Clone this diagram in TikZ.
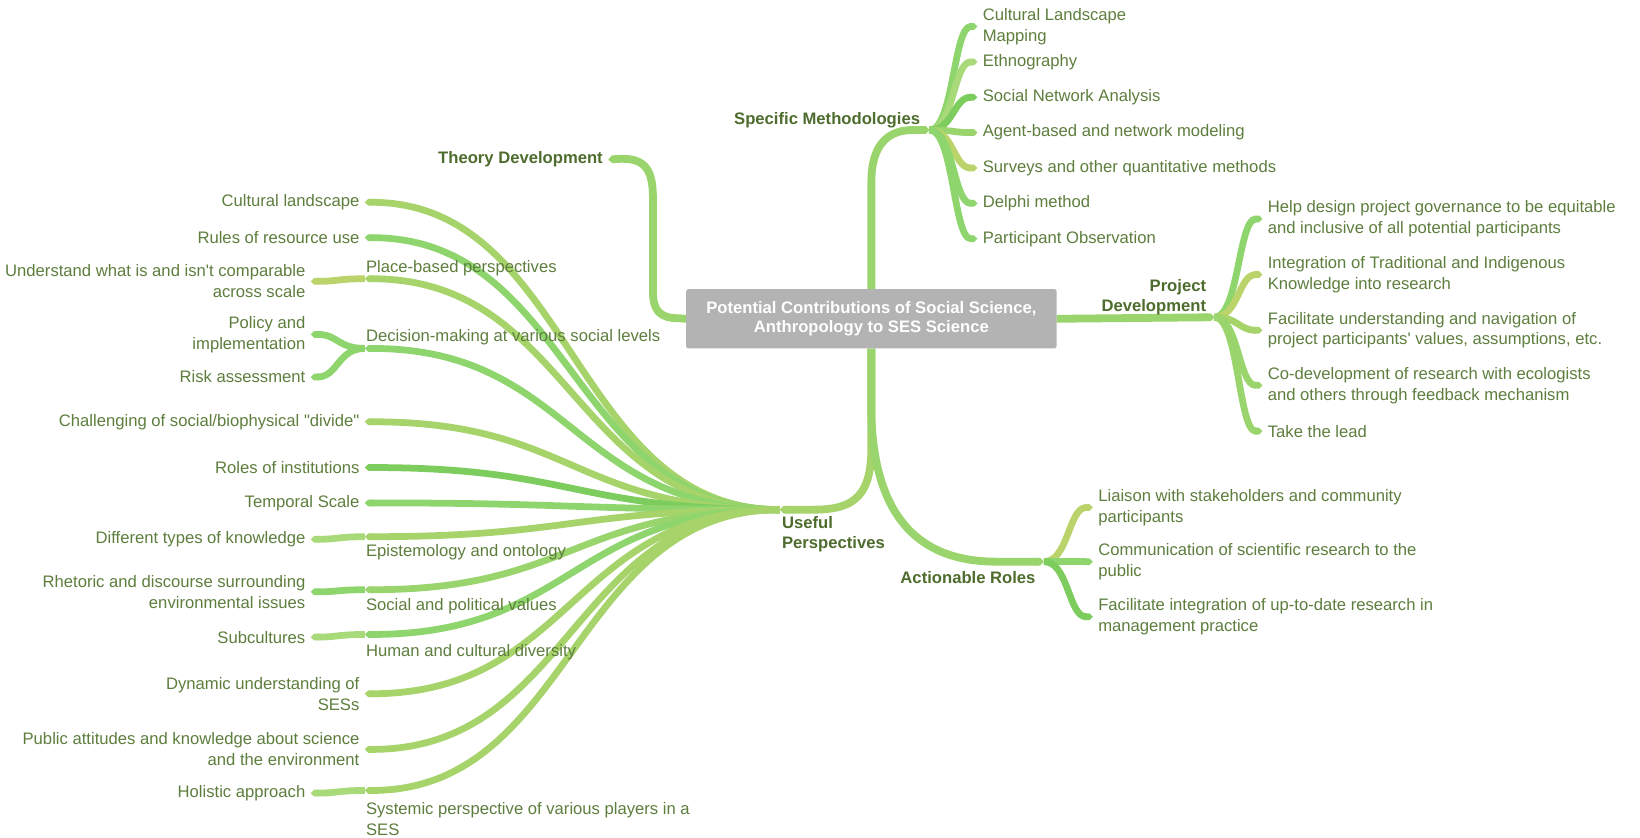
\documentclass[tikz,border=0pt]{standalone}
\usepackage{fontspec}
\setmainfont{Liberation Sans}[Ligatures=TeXOff]
\usetikzlibrary{arrows.meta,calc,positioning,backgrounds}

\definecolor{leaftext}{HTML}{5E7E3E}
\definecolor{headtext}{HTML}{4E6C2D}
\definecolor{rootgray}{HTML}{B3B3B3}
\definecolor{grA}{HTML}{A6D36A}
\definecolor{grB}{HTML}{8DD56C}
\definecolor{grC}{HTML}{7DCD5E}
\definecolor{grD}{HTML}{BAD36A}
\definecolor{grE}{HTML}{9AD46C}
\definecolor{grF}{HTML}{A9DA7A}

\begin{document}
\begin{tikzpicture}[
    x=1pt, y=-1pt,
    font=\fontsize{16}{20}\selectfont,
    leafL/.style={
		anchor=east,
		align=right,
		inner xsep=5pt,
		inner ysep=1pt,
		yshift=-2.5pt,
		text=leaftext
	},
    leafR/.style={
		anchor=west,
		align=left,
		inner xsep=5pt,
		inner ysep=1pt,
		yshift=-2.5pt,
		text=leaftext
	},
    heading/.style={
		font=\fontsize{16}{19}\selectfont\bfseries,
		text=headtext,
		inner xsep=5pt,
		inner ysep=1pt,
		yshift=-2.5pt
	},
    root/.style={
		rectangle,
		rounded corners=2pt,
		fill=rootgray,
		text=white,
		font=\fontsize{16}{19}\selectfont\bfseries,
		align=center,
		minimum width=356pt,
		minimum height=57pt
	},
    bough/.style={line width=7.5pt, -{Triangle Cap[]}},
    twig/.style={
		line width=6.5pt, -{Triangle Cap[]},
		to path={let \p1=(\tikztostart), \p2=(\tikztotarget) in
		  .. controls ({(\x1+\x2)/2},\y1) and ({(\x1+\x2)/2},\y2) .. (\tikztotarget)}
	}
  ]
    % the centre and the five main topics

  \node [root] (core) at (829,306.5)
  {Potential Contributions of Social Science,\\Anthropology to SES Science};

  \node [heading, anchor=east] (theory) at (576,151) {Theory Development};
  \node [heading, anchor=east] (methods) at (881,113) {Specific Methodologies};
  \node [heading, anchor=east, align=right] (project) at (1156,283) {Project\\Development};
  \node [heading, anchor=west, align=left] (useful) at (738,511) {Useful\\Perspectives};
  \node [heading, anchor=east] (roles) at (992,553) {Actionable Roles};

  \coordinate (methodsHub) at (885,125);
  \coordinate (projectHub) at (1159,305);
  \coordinate (usefulHub) at (741,490);
  \coordinate (rolesHub) at (995,540);

  % Specific Methodologies
  \foreach \txt [count=\i] in {{Cultural Landscape\\Mapping}, Ethnography, Social Network Analysis,
      Agent-based and network modeling, Surveys and other quantitative methods,
      Delphi method, Participant Observation}
    \node [leafR] (meth\i) at (931,{34*\i-11}) {\txt};

  % Project Development
  \node [leafR] (govern) at (1205,208) {Help design project governance to be equitable\\and inclusive of all potential participants};
  \node [leafR] (indig) at (1205,261.5) {Integration of Traditional and Indigenous\\Knowledge into research};
  \node [leafR] (navig) at (1205,315) {Facilitate understanding and navigation of\\project participants' values, assumptions, etc.};
  \node [leafR] (codev) at (1205,368) {Co-development of research with ecologists\\and others through feedback mechanism};
  \node [leafR] (lead) at (1205,412) {Take the lead};

  % Actionable Roles
  \node [leafR] (liaison) at (1042,485.5) {Liaison with stakeholders and community\\participants};
  \node [leafR] (commun) at (1042,537.5) {Communication of scientific research to the\\public};
  \node [leafR] (integr) at (1042,590.5) {Facilitate integration of up-to-date research in\\management practice};

  % Useful Perspectives
  \node [leafL] (landsc) at (342,192) {Cultural landscape};
  \node [leafL] (rules) at (342,226) {Rules of resource use};
  \coordinate (placeEnd) at (342,268);
  \node [leafR] (place) at (338,255) {Place-based perspectives};
  \coordinate (decideEnd) at (342,335);
  \node [leafR] (decide) at (338,322) {Decision-making at various social levels};
  \node [leafL] (divide) at (342,403) {Challenging of social/biophysical "divide"};
  \node [leafL] (instit) at (342,447) {Roles of institutions};
  \node [leafL] (tempo) at (342,481) {Temporal Scale};
  \coordinate (epistEnd) at (342,516);
  \node [leafR] (epist) at (338,528) {Epistemology and ontology};
  \coordinate (valuesEnd) at (342,567);
  \node [leafR] (values) at (338,580) {Social and political values};
  \coordinate (diverseEnd) at (342,610);
  \node [leafR] (diverse) at (338,625) {Human and cultural diversity};
  \node [leafL] (dynam) at (342,664.5) {Dynamic understanding of\\SESs};
  \node [leafL] (public) at (342,718) {Public attitudes and knowledge about science\\and the environment};
  \coordinate (systemEnd) at (342,760);
  \node [leafR] (system) at (338,785) {Systemic perspective of various players in a\\SES};

  \node [leafL] (compare) at (290,268) {Understand what is and isn't comparable\\across scale};
  \node [leafL] (policy) at (290,319) {Policy and\\implementation};
  \node [leafL] (risk) at (290,360) {Risk assessment};
  \node [leafL] (kinds) at (290,516) {Different types of knowledge};
  \node [leafL] (rhetor) at (290,566.5) {Rhetoric and discourse surrounding\\environmental issues};
  \node [leafL] (subcult) at (290,610) {Subcultures};
  \node [leafL] (holist) at (290,760) {Holistic approach};

  \begin{scope}[on background layer]
    \path [use as bounding box, fill=white] (0,0) rectangle (1568,805);

    % main branches
    \draw [bough, draw=grE] (core.west) -- (644,306) .. controls (625,306) and (619,298) .. (619,280)
      -- (619,190) .. controls (619,160) and (609,151) .. (theory.east);
    \draw [bough, draw=grE] (core.north) -- (829,175) .. controls (829,140) and (844,125) .. (869,125) -- (methodsHub);
    \draw [bough, draw=grE] (core.east) -- (projectHub);
    \draw [bough, draw=grA] (core.south) -- (829,430) .. controls (829,475) and (814,490) .. (774,490) -- (usefulHub);
    \draw [bough, draw=grE] (core.south) -- (829,400) .. controls (832,490) and (869,540) .. (949,540) -- (rolesHub);

    \foreach \col [count=\i] in {grB,grF,grC,grE,grD,grB,grB}
      \draw [twig, draw=\col] (methodsHub) to (meth\i.west);

    \draw [twig, draw=grB] (projectHub) to (govern.west);
    \draw [twig, draw=grD] (projectHub) to (indig.west);
    \draw [twig, draw=grA] (projectHub) to (navig.west);
    \draw [twig, draw=grE] (projectHub) to (codev.west);
    \draw [twig, draw=grE] (projectHub) to (lead.west);

    \draw [twig, draw=grD] (rolesHub) to (liaison.west);
    \draw [twig, draw=grB] (rolesHub) to (commun.west);
    \draw [twig, draw=grC] (rolesHub) to (integr.west);

    \draw [twig, draw=grA] (usefulHub) to (landsc.east);
    \draw [twig, draw=grB] (usefulHub) to (rules.east);
    \draw [twig, draw=grA] (usefulHub) to (placeEnd);
    \draw [twig, draw=grB] (usefulHub) to (decideEnd);
    \draw [twig, draw=grA] (usefulHub) to (divide.east);
    \draw [twig, draw=grC] (usefulHub) to (instit.east);
    \draw [twig, draw=grB] (usefulHub) to (tempo.east);
    \draw [twig, draw=grA] (usefulHub) to (epistEnd);
    \draw [twig, draw=grE] (usefulHub) to (valuesEnd);
    \draw [twig, draw=grB] (usefulHub) to (diverseEnd);
    \draw [twig, draw=grA] (usefulHub) to (dynam.east);
    \draw [twig, draw=grA] (usefulHub) to (public.east);
    \draw [twig, draw=grA] (usefulHub) to (systemEnd);

    \draw [twig, draw=grD] (placeEnd) to (compare.east);
    \draw [twig, draw=grB] (decideEnd) to (policy.east);
    \draw [twig, draw=grB] (decideEnd) to (risk.east);
    \draw [twig, draw=grF] (epistEnd) to (kinds.east);
    \draw [twig, draw=grB] (valuesEnd) to (rhetor.east);
    \draw [twig, draw=grF] (diverseEnd) to (subcult.east);
    \draw [twig, draw=grF] (systemEnd) to (holist.east);
  \end{scope}

\end{tikzpicture}
\end{document}
